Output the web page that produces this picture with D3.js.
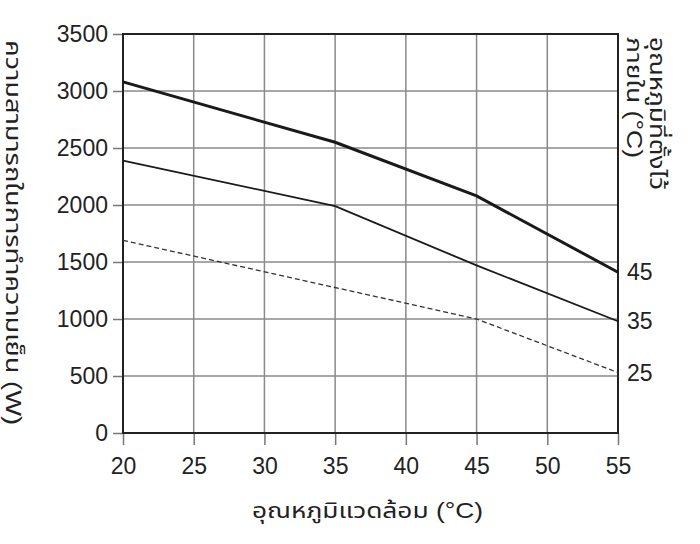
<!DOCTYPE html>
<html>
<head>
<meta charset="utf-8">
<script src="https://cdn.jsdelivr.net/npm/d3@7"></script>
<style>
  body { margin: 0; background: #fff; }
  svg text { font-family: "Liberation Sans", Arial, "Noto Sans Thai", "Loma", "Garuda", sans-serif; fill: #222; }
</style>
</head>
<body>
<div id="chart"></div>
<script>
// ambient temperature (x) and cooling capacity (W) for each set room temperature
const ambientTemps = [20, 25, 30, 35, 40, 45, 50, 55];
const capacityTicks = [0, 500, 1000, 1500, 2000, 2500, 3000, 3500];

const setTemps = ['45', '35', '25'];
const line45 = [[20, 3080], [35, 2550], [45, 2080], [55, 1410]];
const line35 = [[20, 2390], [35, 1990], [45, 1470], [55, 980]];
const line25 = [[20, 1690], [45, 1000], [55, 530]];

const xTitle = 'อุณหภูมิแวดล้อม (°C)';
const yTitle = 'ความสามารถในการทำความเย็น (W)';
const rightTitle = ['อุณหภูมิที่ตั้งไว้', 'ภายใน (°C)'];

const width = 700;
const height = 544;
const margin = { top: 34, right: 82, bottom: 111, left: 123 };

const x = d3.scaleLinear()
  .domain([20, 55])
  .range([margin.left, width - margin.right]);

const y = d3.scaleLinear()
  .domain([0, 3500])
  .range([height - margin.bottom, margin.top]);

const svg = d3.select('#chart')
  .append('svg')
  .attr('width', width)
  .attr('height', height);

// grid
svg.append('g')
  .selectAll('line')
  .data(ambientTemps.slice(1, -1))
  .join('line')
  .attr('x1', (d) => x(d)).attr('x2', (d) => x(d))
  .attr('y1', y(0)).attr('y2', y(3500))
  .attr('stroke', '#8a8a8a')
  .attr('stroke-width', 1.5);

svg.append('g')
  .selectAll('line')
  .data(capacityTicks.slice(1, -1))
  .join('line')
  .attr('x1', x(20)).attr('x2', x(55))
  .attr('y1', (d) => y(d)).attr('y2', (d) => y(d))
  .attr('stroke', '#8a8a8a')
  .attr('stroke-width', 1.5);

const xAxis = (g) => g
  .attr('transform', `translate(0,${y(0)})`)
  .call(d3.axisBottom(x).tickValues(ambientTemps).tickFormat(d3.format('d')).tickSize(12).tickPadding(13))
  .call((g) => g.select('.domain').remove())
  .call((g) => g.selectAll('.tick line').attr('stroke', '#777').attr('stroke-width', 1.5))
  .call((g) => g.selectAll('.tick text').attr('font-size', 23).attr('fill', '#222'));

const yAxis = (g) => g
  .attr('transform', `translate(${x(20)},0)`)
  .call(d3.axisLeft(y).tickValues(capacityTicks).tickFormat(d3.format('d')).tickSize(10).tickPadding(5))
  .call((g) => g.select('.domain').remove())
  .call((g) => g.selectAll('.tick line').attr('stroke', '#777').attr('stroke-width', 1.5))
  .call((g) => g.selectAll('.tick text').attr('font-size', 23).attr('fill', '#222'));

svg.append('g').call(xAxis);
svg.append('g').call(yAxis);

// frame
svg.append('rect')
  .attr('x', x(20))
  .attr('y', y(3500))
  .attr('width', x(55) - x(20))
  .attr('height', y(0) - y(3500))
  .attr('fill', 'none')
  .attr('stroke', '#222')
  .attr('stroke-width', 2);

const line = d3.line()
  .x((d) => x(d[0]))
  .y((d) => y(d[1]));

svg.append('path')
  .datum(line45)
  .attr('d', line)
  .attr('fill', 'none')
  .attr('stroke', '#1a1a1a')
  .attr('stroke-width', 3);

svg.append('path')
  .datum(line35)
  .attr('d', line)
  .attr('fill', 'none')
  .attr('stroke', '#1a1a1a')
  .attr('stroke-width', 1.8);

svg.append('path')
  .datum(line25)
  .attr('d', line)
  .attr('fill', 'none')
  .attr('stroke', '#333')
  .attr('stroke-width', 1.3)
  .attr('stroke-dasharray', '5,3');

// end labels
const ends = [line45, line35, line25];
svg.append('g')
  .selectAll('text')
  .data(setTemps)
  .join('text')
  .attr('x', x(55) + 9)
  .attr('y', (d, i) => y(ends[i][ends[i].length - 1][1]))
  .attr('dy', '0.35em')
  .attr('font-size', 23)
  .text((d) => d);

// titles
svg.append('text')
  .attr('x', 252)
  .attr('y', 518)
  .attr('font-size', 22)
  .attr('textLength', 231)
  .attr('lengthAdjust', 'spacingAndGlyphs')
  .text(xTitle);

svg.append('text')
  .attr('transform', `translate(6,40) rotate(90)`)
  .attr('font-size', 22)
  .attr('textLength', 385)
  .attr('lengthAdjust', 'spacingAndGlyphs')
  .text(yTitle);

const rightLengths = [153, 121];
svg.append('g')
  .attr('transform', `translate(${x(55) + 32},37) rotate(90)`)
  .selectAll('text')
  .data(rightTitle)
  .join('text')
  .attr('x', 0)
  .attr('y', (d, i) => i * 23)
  .attr('font-size', 22)
  .attr('textLength', (d, i) => rightLengths[i])
  .attr('lengthAdjust', 'spacingAndGlyphs')
  .text((d) => d);
</script>
</body>
</html>
